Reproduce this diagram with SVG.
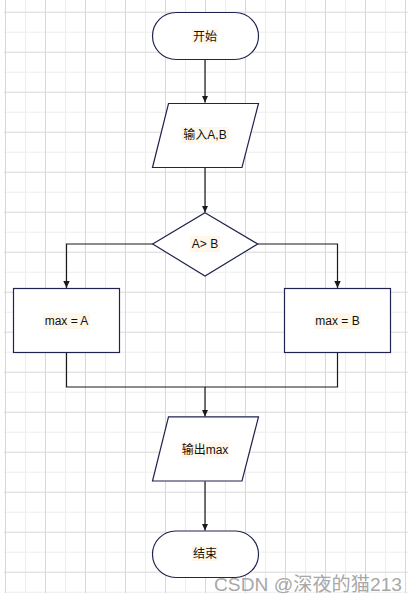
<svg xmlns="http://www.w3.org/2000/svg" width="417" height="604" viewBox="0 0 417 604">
<defs>
<style>
.gl{stroke:#ededed;stroke-width:1}
.gd{stroke:#d8d8d8;stroke-width:1}
.shape{fill:#ffffff;stroke:#20234f;stroke-width:1.2}
.conn{fill:none;stroke:#1a1a1a;stroke-width:1.2}
.lbl{font-family:"Liberation Sans","Noto Sans CJK SC",Arial,sans-serif;font-size:12px;fill:#111111;text-anchor:middle;dominant-baseline:central}
.hl{fill:#fff8ea}
.wm{font-family:"Liberation Sans","Noto Sans CJK SC",Arial,sans-serif;font-size:19px;fill:#a8a8a8}
</style>
<marker id="arr" markerUnits="userSpaceOnUse" markerWidth="8" markerHeight="8" viewBox="0 0 8 8" refX="7" refY="4" orient="auto">
<path d="M0,0.8 L7,4 L0,7.2 Z" fill="#1a1a1a"/>
</marker>
<pattern id="grid" x="5" y="-8.3" width="40" height="40" patternUnits="userSpaceOnUse">
<line class="gl" x1="20.5" y1="0" x2="20.5" y2="40"/>
<line class="gl" x1="0" y1="0.5" x2="40" y2="0.5"/>
<line class="gd" x1="0.5" y1="0" x2="0.5" y2="40"/>
<line class="gd" x1="0" y1="20.5" x2="40" y2="20.5"/>
</pattern>
</defs>
<rect x="0" y="0" width="417" height="604" fill="#ffffff"/>
<rect x="4" y="0" width="404" height="593" fill="url(#grid)"/>
<g id="connectors">
<path class="conn" d="M205,59.5 V102.5" marker-end="url(#arr)"/>
<path class="conn" d="M205,167.5 V212.5" marker-end="url(#arr)"/>
<path class="conn" d="M153,244 H66.5 V288" marker-end="url(#arr)"/>
<path class="conn" d="M257.5,244 H337.5 V288" marker-end="url(#arr)"/>
<path class="conn" d="M66.5,352.5 V387 H337.5 V352.5"/>
<path class="conn" d="M205,387 V416.5" marker-end="url(#arr)"/>
<path class="conn" d="M205,481.5 V530.5" marker-end="url(#arr)"/>
</g>
<g id="start">
<rect class="shape" x="152.5" y="12.5" width="106" height="47" rx="23.5" ry="23.5"/>
<rect class="hl" x="192" y="29" width="26" height="15"/>
<text class="lbl" x="205" y="36.5">开始</text>
</g>
<g id="input">
<polygon class="shape" points="168.5,103.5 258.5,103.5 242,167.5 152.5,167.5"/>
<rect class="hl" x="181" y="127" width="48" height="16"/>
<text class="lbl" x="205" y="135">输入A,B</text>
</g>
<g id="decision">
<polygon class="shape" points="205,212.7 257.7,244 205,276 152.7,244"/>
<rect class="hl" x="190" y="236" width="30" height="16"/>
<text class="lbl" x="205" y="244">A&gt; B</text>
</g>
<g id="maxA">
<rect class="shape" x="13.5" y="288.5" width="106" height="64"/>
<rect class="hl" x="43" y="313" width="47" height="16"/>
<text class="lbl" x="66.5" y="321">max = A</text>
</g>
<g id="maxB">
<rect class="shape" x="284.5" y="288.5" width="106" height="64"/>
<rect class="hl" x="314" y="313" width="47" height="16"/>
<text class="lbl" x="337.5" y="321">max = B</text>
</g>
<g id="output">
<polygon class="shape" points="168.5,416.8 258.5,416.8 242,481 152.5,481"/>
<rect class="hl" x="182" y="442" width="47" height="16"/>
<text class="lbl" x="205" y="450">输出max</text>
</g>
<g id="end">
<rect class="shape" x="152.5" y="531" width="106" height="46.5" rx="23.25" ry="23.25"/>
<rect class="hl" x="192" y="546" width="26" height="15"/>
<text class="lbl" x="205" y="554">结束</text>
</g>
<text class="wm" x="214" y="591" textLength="188" lengthAdjust="spacingAndGlyphs">CSDN @深夜的猫213</text>
</svg>
